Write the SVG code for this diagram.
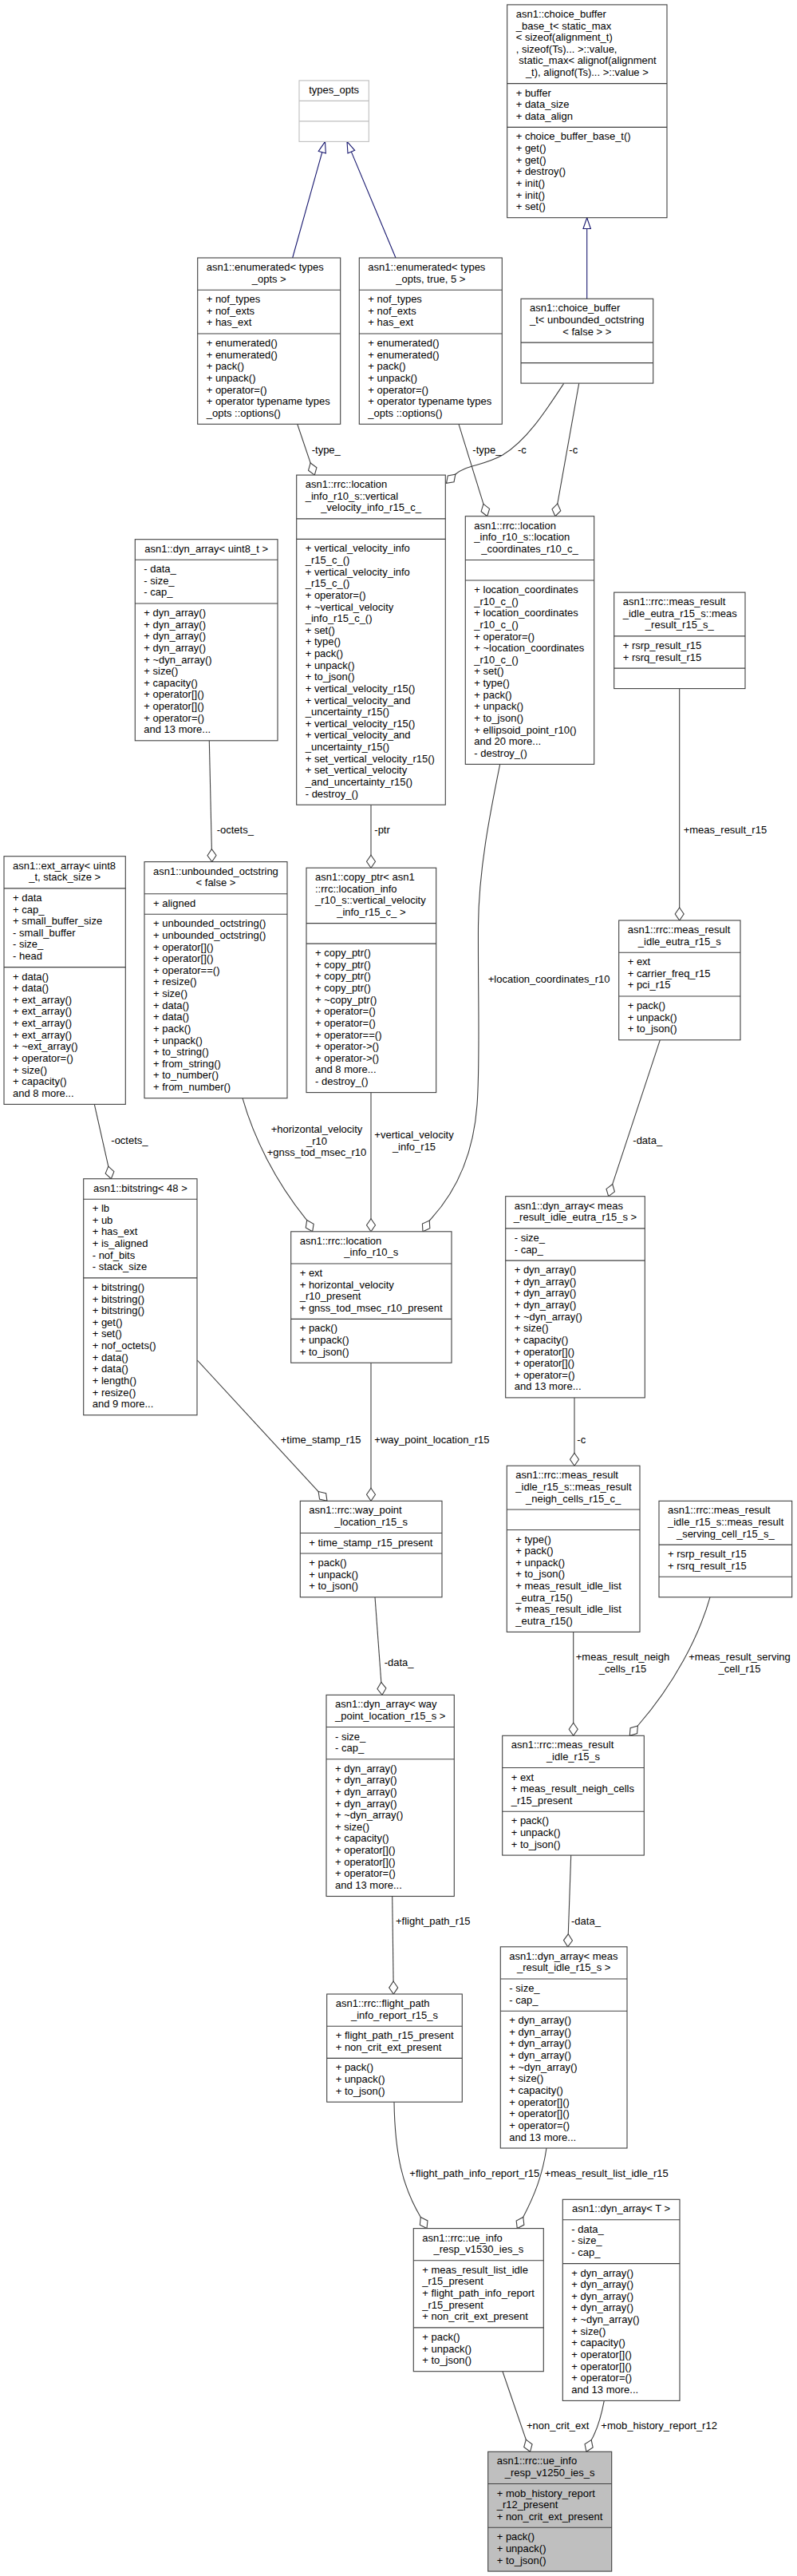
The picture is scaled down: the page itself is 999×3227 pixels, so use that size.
<svg xmlns="http://www.w3.org/2000/svg" width="999" height="3227" viewBox="0 0 999 3227">
<style>
text{font-family:"Liberation Sans",Arial,sans-serif;font-size:13px;fill:#000}
.c{text-anchor:middle}
.n{fill:#fff;stroke:#404040;stroke-width:1.1}
.g{fill:#bfbfbf;stroke:#404040;stroke-width:1.1}
.u{fill:#fff;stroke:#bfbfbf;stroke-width:1.1}
.d{fill:none;stroke:#404040;stroke-width:1.1}
.du{fill:none;stroke:#bfbfbf;stroke-width:1.1}
.e{fill:none;stroke:#404040;stroke-width:1.1;marker-end:url(#dia)}
.i{fill:none;stroke:#191970;stroke-width:1.1;marker-end:url(#tri)}
</style>
<defs>
<marker id="dia" markerUnits="userSpaceOnUse" viewBox="-1 -1 18 13" markerWidth="18" markerHeight="13" refX="16" refY="5.5" orient="auto"><path d="M0,5.5L8,0L16,5.5L8,11Z" fill="#fff" stroke="#404040" stroke-width="1.1"/></marker>
<marker id="tri" markerUnits="userSpaceOnUse" viewBox="-1 -1 16 12" markerWidth="16" markerHeight="12" refX="13.8" refY="4.7" orient="auto"><path d="M0,0L13.8,4.7L0,9.4Z" fill="#fff" stroke="#191970" stroke-width="1.1"/></marker>
</defs>
<rect width="999" height="3227" fill="#fff"/>
<g id="edges">
<path class="i" d="M366.7,323L407.5,177.4"/>
<path class="i" d="M496,323L435,177.4"/>
<path class="i" d="M735.7,374.3L735.7,272.7"/>
<path class="e" d="M372.7,531.3L394.3,595.1"/>
<path class="e" d="M706.7,480.4C684,515 660,552 630,570C605,584 585,582 571,594L559.5,605.4"/>
<path class="e" d="M725.7,480.4L696,646.7"/>
<path class="e" d="M575,531.3L610.7,646.7"/>
<path class="e" d="M262.3,927.8L265.7,1079.6"/>
<path class="e" d="M465,1008.2L465,1087.2"/>
<path class="e" d="M118.3,1383.4L139.3,1476.7"/>
<path class="e" d="M304,1375.7C318,1425 345,1480 385,1529L391.7,1542.8"/>
<path class="e" d="M465,1368.6L465,1542.8"/>
<path class="e" d="M626.7,957.4C614,1020 600,1090 599.5,1160C599,1250 602,1330 598,1384C594,1440 575,1490 538.3,1529L530,1542.8"/>
<path class="e" d="M851.7,862.6L851.7,1153"/>
<path class="e" d="M827.3,1302.8L762.7,1498.7"/>
<path class="e" d="M247.3,1704L410,1880.3"/>
<path class="e" d="M465,1707.2L465,1880.3"/>
<path class="e" d="M720,1750.9L720,1836.2"/>
<path class="e" d="M470,2000.8L479,2123.3"/>
<path class="e" d="M491.7,2375.5L493.3,2498"/>
<path class="e" d="M718.7,2044.4L718.7,2174.3"/>
<path class="e" d="M890,2000.8C876,2050 845,2110 799.3,2162L789.3,2174.3"/>
<path class="e" d="M715.7,2324.1L711.7,2438.8"/>
<path class="e" d="M494,2633.2C495,2700 505,2740 527,2777L535,2791.6"/>
<path class="e" d="M685,2691C680,2725 670,2750 656,2777L648.3,2791.6"/>
<path class="e" d="M630,2970.7L664.5,3071.3"/>
<path class="e" d="M757.3,3007.4C753,3030 748,3045 741,3057L735,3071.3"/>
<text x="390.7" y="567.5">-type_</text>
<text x="649" y="567.5">-c</text>
<text x="713.3" y="567.5">-c</text>
<text x="592.3" y="567.5">-type_</text>
<text x="271.7" y="1043.8">-octets_</text>
<text x="469.3" y="1043.8">-ptr</text>
<text x="139.3" y="1433">-octets_</text>
<text class="c" x="397" y="1419.2">+horizontal_velocity<tspan x="397" dy="14.6">_r10</tspan><tspan x="397" dy="14.6">+gnss_tod_msec_r10</tspan></text>
<text class="c" x="519" y="1426.1">+vertical_velocity<tspan x="519" dy="14.6">_info_r15</tspan></text>
<text x="611.7" y="1230.8">+location_coordinates_r10</text>
<text x="856.7" y="1043.8">+meas_result_r15</text>
<text x="793.3" y="1433">-data_</text>
<text x="351.7" y="1808.3">+time_stamp_r15</text>
<text x="469.3" y="1808.3">+way_point_location_r15</text>
<text x="723.3" y="1808.3">-c</text>
<text x="481.7" y="2087.3">-data_</text>
<text x="496" y="2410.8">+flight_path_r15</text>
<text class="c" x="780.5" y="2080">+meas_result_neigh<tspan x="780.5" dy="14.6">_cells_r15</tspan></text>
<text class="c" x="927" y="2080">+meas_result_serving<tspan x="927" dy="14.6">_cell_r15</tspan></text>
<text x="716" y="2410.8">-data_</text>
<text x="513.3" y="2726.9">+flight_path_info_report_r15</text>
<text x="682.7" y="2726.9">+meas_result_list_idle_r15</text>
<text x="660" y="3043.2">+non_crit_ext</text>
<text x="753.3" y="3043.2">+mob_history_report_r12</text>
</g>
<g id="node_types_opts">
<rect class="u" x="375" y="100.9" width="87.3" height="76.5"/>
<path class="du" d="M375,126.4H462.3M375,151.9H462.3"/>
<text class="c" x="418.6" y="116.9">types_opts</text>
</g>
<g id="node_enumerated_types_opts">
<rect class="n" x="247.7" y="323" width="179" height="208.3"/>
<path class="d" d="M247.7,363.2H426.7M247.7,418H426.7"/>
<text x="258.7" y="339">asn1::enumerated&lt; types</text>
<text class="c" x="337.2" y="353.6">_opts &gt;</text>
<text x="258.7" y="379.2">+ nof_types<tspan x="258.7" dy="14.63">+ nof_exts</tspan><tspan x="258.7" dy="14.63">+ has_ext</tspan></text>
<text x="258.7" y="434">+ enumerated()<tspan x="258.7" dy="14.63">+ enumerated()</tspan><tspan x="258.7" dy="14.63">+ pack()</tspan><tspan x="258.7" dy="14.63">+ unpack()</tspan><tspan x="258.7" dy="14.63">+ operator=()</tspan><tspan x="258.7" dy="14.63">+ operator typename types</tspan><tspan x="258.7" dy="14.63">_opts ::options()</tspan></text>
</g>
<g id="node_enumerated_types_opts_true_5">
<rect class="n" x="450.3" y="323" width="179" height="208.3"/>
<path class="d" d="M450.3,363.2H629.3M450.3,418H629.3"/>
<text x="461.3" y="339">asn1::enumerated&lt; types</text>
<text class="c" x="539.8" y="353.6">_opts, true, 5 &gt;</text>
<text x="461.3" y="379.2">+ nof_types<tspan x="461.3" dy="14.63">+ nof_exts</tspan><tspan x="461.3" dy="14.63">+ has_ext</tspan></text>
<text x="461.3" y="434">+ enumerated()<tspan x="461.3" dy="14.63">+ enumerated()</tspan><tspan x="461.3" dy="14.63">+ pack()</tspan><tspan x="461.3" dy="14.63">+ unpack()</tspan><tspan x="461.3" dy="14.63">+ operator=()</tspan><tspan x="461.3" dy="14.63">+ operator typename types</tspan><tspan x="461.3" dy="14.63">_opts ::options()</tspan></text>
</g>
<g id="node_choice_buffer_base_t">
<rect class="n" x="635.7" y="5.9" width="200.3" height="266.8"/>
<path class="d" d="M635.7,104.6H836M635.7,159.4H836"/>
<text x="646.7" y="21.9">asn1::choice_buffer<tspan x="646.7" dy="14.63">_base_t&lt; static_max</tspan><tspan x="646.7" dy="14.63">&lt; sizeof(alignment_t)</tspan><tspan x="646.7" dy="14.63">, sizeof(Ts)... &gt;::value,</tspan><tspan x="650.3" dy="14.63">static_max&lt; alignof(alignment</tspan></text>
<text class="c" x="735.85" y="95.1">_t), alignof(Ts)... &gt;::value &gt;</text>
<text x="646.7" y="120.6">+ buffer<tspan x="646.7" dy="14.63">+ data_size</tspan><tspan x="646.7" dy="14.63">+ data_align</tspan></text>
<text x="646.7" y="175.4">+ choice_buffer_base_t()<tspan x="646.7" dy="14.63">+ get()</tspan><tspan x="646.7" dy="14.63">+ get()</tspan><tspan x="646.7" dy="14.63">+ destroy()</tspan><tspan x="646.7" dy="14.63">+ init()</tspan><tspan x="646.7" dy="14.63">+ init()</tspan><tspan x="646.7" dy="14.63">+ set()</tspan></text>
</g>
<g id="node_choice_buffer_t">
<rect class="n" x="653" y="374.3" width="165.7" height="105.8"/>
<path class="d" d="M653,429.1H818.7M653,454.6H818.7"/>
<text x="664" y="390.3">asn1::choice_buffer<tspan x="664" dy="14.63">_t&lt; unbounded_octstring</tspan></text>
<text class="c" x="735.85" y="419.6">&lt; false &gt; &gt;</text>
</g>
<g id="node_vertical_velocity_info_r15_c">
<rect class="n" x="371.7" y="595.1" width="186.6" height="413.1"/>
<path class="d" d="M371.7,649.9H558.3M371.7,675.4H558.3"/>
<text x="382.7" y="611.1">asn1::rrc::location<tspan x="382.7" dy="14.63">_info_r10_s::vertical</tspan></text>
<text class="c" x="465" y="640.4">_velocity_info_r15_c_</text>
<text x="382.7" y="691.4">+ vertical_velocity_info<tspan x="382.7" dy="14.63">_r15_c_()</tspan><tspan x="382.7" dy="14.63">+ vertical_velocity_info</tspan><tspan x="382.7" dy="14.63">_r15_c_()</tspan><tspan x="382.7" dy="14.63">+ operator=()</tspan><tspan x="382.7" dy="14.63">+ ~vertical_velocity</tspan><tspan x="382.7" dy="14.63">_info_r15_c_()</tspan><tspan x="382.7" dy="14.63">+ set()</tspan><tspan x="382.7" dy="14.63">+ type()</tspan><tspan x="382.7" dy="14.63">+ pack()</tspan><tspan x="382.7" dy="14.63">+ unpack()</tspan><tspan x="382.7" dy="14.63">+ to_json()</tspan><tspan x="382.7" dy="14.63">+ vertical_velocity_r15()</tspan><tspan x="382.7" dy="14.63">+ vertical_velocity_and</tspan><tspan x="382.7" dy="14.63">_uncertainty_r15()</tspan><tspan x="382.7" dy="14.63">+ vertical_velocity_r15()</tspan><tspan x="382.7" dy="14.63">+ vertical_velocity_and</tspan><tspan x="382.7" dy="14.63">_uncertainty_r15()</tspan><tspan x="382.7" dy="14.63">+ set_vertical_velocity_r15()</tspan><tspan x="382.7" dy="14.63">+ set_vertical_velocity</tspan><tspan x="382.7" dy="14.63">_and_uncertainty_r15()</tspan><tspan x="382.7" dy="14.63">- destroy_()</tspan></text>
</g>
<g id="node_location_coordinates_r10_c">
<rect class="n" x="583.3" y="646.7" width="161.4" height="310.7"/>
<path class="d" d="M583.3,701.5H744.7M583.3,727H744.7"/>
<text x="594.3" y="662.7">asn1::rrc::location<tspan x="594.3" dy="14.63">_info_r10_s::location</tspan></text>
<text class="c" x="664" y="692">_coordinates_r10_c_</text>
<text x="594.3" y="743">+ location_coordinates<tspan x="594.3" dy="14.63">_r10_c_()</tspan><tspan x="594.3" dy="14.63">+ location_coordinates</tspan><tspan x="594.3" dy="14.63">_r10_c_()</tspan><tspan x="594.3" dy="14.63">+ operator=()</tspan><tspan x="594.3" dy="14.63">+ ~location_coordinates</tspan><tspan x="594.3" dy="14.63">_r10_c_()</tspan><tspan x="594.3" dy="14.63">+ set()</tspan><tspan x="594.3" dy="14.63">+ type()</tspan><tspan x="594.3" dy="14.63">+ pack()</tspan><tspan x="594.3" dy="14.63">+ unpack()</tspan><tspan x="594.3" dy="14.63">+ to_json()</tspan><tspan x="594.3" dy="14.63">+ ellipsoid_point_r10()</tspan><tspan x="594.3" dy="14.63">and 20 more...</tspan><tspan x="594.3" dy="14.63">- destroy_()</tspan></text>
</g>
<g id="node_meas_result_r15_s">
<rect class="n" x="769.7" y="742.1" width="164.3" height="120.5"/>
<path class="d" d="M769.7,796.9H934M769.7,837.1H934"/>
<text x="780.7" y="758.1">asn1::rrc::meas_result<tspan x="780.7" dy="14.63">_idle_eutra_r15_s::meas</tspan></text>
<text class="c" x="851.85" y="787.4">_result_r15_s_</text>
<text x="780.7" y="812.9">+ rsrp_result_r15<tspan x="780.7" dy="14.63">+ rsrq_result_r15</tspan></text>
</g>
<g id="node_dyn_array_uint8_t">
<rect class="n" x="169.3" y="675.7" width="178.7" height="252.1"/>
<path class="d" d="M169.3,701.2H348M169.3,756H348"/>
<text class="c" x="258.65" y="691.7">asn1::dyn_array&lt; uint8_t &gt;</text>
<text x="180.3" y="717.2">- data_<tspan x="180.3" dy="14.63">- size_</tspan><tspan x="180.3" dy="14.63">- cap_</tspan></text>
<text x="180.3" y="772">+ dyn_array()<tspan x="180.3" dy="14.63">+ dyn_array()</tspan><tspan x="180.3" dy="14.63">+ dyn_array()</tspan><tspan x="180.3" dy="14.63">+ dyn_array()</tspan><tspan x="180.3" dy="14.63">+ ~dyn_array()</tspan><tspan x="180.3" dy="14.63">+ size()</tspan><tspan x="180.3" dy="14.63">+ capacity()</tspan><tspan x="180.3" dy="14.63">+ operator[]()</tspan><tspan x="180.3" dy="14.63">+ operator[]()</tspan><tspan x="180.3" dy="14.63">+ operator=()</tspan><tspan x="180.3" dy="14.63">and 13 more...</tspan></text>
</g>
<g id="node_ext_array">
<rect class="n" x="5" y="1072.7" width="152.3" height="310.7"/>
<path class="d" d="M5,1112.9H157.3M5,1211.6H157.3"/>
<text x="16" y="1088.7">asn1::ext_array&lt; uint8</text>
<text class="c" x="81.15" y="1103.3">_t, stack_size &gt;</text>
<text x="16" y="1128.9">+ data<tspan x="16" dy="14.63">+ cap_</tspan><tspan x="16" dy="14.63">+ small_buffer_size</tspan><tspan x="16" dy="14.63">- small_buffer</tspan><tspan x="16" dy="14.63">- size_</tspan><tspan x="16" dy="14.63">- head</tspan></text>
<text x="16" y="1227.6">+ data()<tspan x="16" dy="14.63">+ data()</tspan><tspan x="16" dy="14.63">+ ext_array()</tspan><tspan x="16" dy="14.63">+ ext_array()</tspan><tspan x="16" dy="14.63">+ ext_array()</tspan><tspan x="16" dy="14.63">+ ext_array()</tspan><tspan x="16" dy="14.63">+ ~ext_array()</tspan><tspan x="16" dy="14.63">+ operator=()</tspan><tspan x="16" dy="14.63">+ size()</tspan><tspan x="16" dy="14.63">+ capacity()</tspan><tspan x="16" dy="14.63">and 8 more...</tspan></text>
</g>
<g id="node_unbounded_octstring">
<rect class="n" x="181" y="1079.6" width="179" height="296.1"/>
<path class="d" d="M181,1119.8H360M181,1145.3H360"/>
<text x="192" y="1095.6">asn1::unbounded_octstring</text>
<text class="c" x="270.5" y="1110.2">&lt; false &gt;</text>
<text x="192" y="1135.8">+ aligned</text>
<text x="192" y="1161.3">+ unbounded_octstring()<tspan x="192" dy="14.63">+ unbounded_octstring()</tspan><tspan x="192" dy="14.63">+ operator[]()</tspan><tspan x="192" dy="14.63">+ operator[]()</tspan><tspan x="192" dy="14.63">+ operator==()</tspan><tspan x="192" dy="14.63">+ resize()</tspan><tspan x="192" dy="14.63">+ size()</tspan><tspan x="192" dy="14.63">+ data()</tspan><tspan x="192" dy="14.63">+ data()</tspan><tspan x="192" dy="14.63">+ pack()</tspan><tspan x="192" dy="14.63">+ unpack()</tspan><tspan x="192" dy="14.63">+ to_string()</tspan><tspan x="192" dy="14.63">+ from_string()</tspan><tspan x="192" dy="14.63">+ to_number()</tspan><tspan x="192" dy="14.63">+ from_number()</tspan></text>
</g>
<g id="node_copy_ptr">
<rect class="n" x="384" y="1087.2" width="162.7" height="281.4"/>
<path class="d" d="M384,1156.6H546.7M384,1182.1H546.7"/>
<text x="395" y="1103.2">asn1::copy_ptr&lt; asn1<tspan x="395" dy="14.63">::rrc::location_info</tspan><tspan x="395" dy="14.63">_r10_s::vertical_velocity</tspan></text>
<text class="c" x="465.35" y="1147.1">_info_r15_c_ &gt;</text>
<text x="395" y="1198.1">+ copy_ptr()<tspan x="395" dy="14.63">+ copy_ptr()</tspan><tspan x="395" dy="14.63">+ copy_ptr()</tspan><tspan x="395" dy="14.63">+ copy_ptr()</tspan><tspan x="395" dy="14.63">+ ~copy_ptr()</tspan><tspan x="395" dy="14.63">+ operator=()</tspan><tspan x="395" dy="14.63">+ operator=()</tspan><tspan x="395" dy="14.63">+ operator==()</tspan><tspan x="395" dy="14.63">+ operator-&gt;()</tspan><tspan x="395" dy="14.63">+ operator-&gt;()</tspan><tspan x="395" dy="14.63">and 8 more...</tspan><tspan x="395" dy="14.63">- destroy_()</tspan></text>
</g>
<g id="node_meas_result_idle_eutra_r15_s">
<rect class="n" x="775.7" y="1153" width="152.3" height="149.8"/>
<path class="d" d="M775.7,1193.2H928M775.7,1248H928"/>
<text x="786.7" y="1169">asn1::rrc::meas_result</text>
<text class="c" x="851.85" y="1183.6">_idle_eutra_r15_s</text>
<text x="786.7" y="1209.2">+ ext<tspan x="786.7" dy="14.63">+ carrier_freq_r15</tspan><tspan x="786.7" dy="14.63">+ pci_r15</tspan></text>
<text x="786.7" y="1264">+ pack()<tspan x="786.7" dy="14.63">+ unpack()</tspan><tspan x="786.7" dy="14.63">+ to_json()</tspan></text>
</g>
<g id="node_bitstring_48">
<rect class="n" x="104.7" y="1476.7" width="142.3" height="296"/>
<path class="d" d="M104.7,1502.2H247M104.7,1600.9H247"/>
<text class="c" x="175.85" y="1492.7">asn1::bitstring&lt; 48 &gt;</text>
<text x="115.7" y="1518.2">+ lb<tspan x="115.7" dy="14.63">+ ub</tspan><tspan x="115.7" dy="14.63">+ has_ext</tspan><tspan x="115.7" dy="14.63">+ is_aligned</tspan><tspan x="115.7" dy="14.63">- nof_bits</tspan><tspan x="115.7" dy="14.63">- stack_size</tspan></text>
<text x="115.7" y="1616.9">+ bitstring()<tspan x="115.7" dy="14.63">+ bitstring()</tspan><tspan x="115.7" dy="14.63">+ bitstring()</tspan><tspan x="115.7" dy="14.63">+ get()</tspan><tspan x="115.7" dy="14.63">+ set()</tspan><tspan x="115.7" dy="14.63">+ nof_octets()</tspan><tspan x="115.7" dy="14.63">+ data()</tspan><tspan x="115.7" dy="14.63">+ data()</tspan><tspan x="115.7" dy="14.63">+ length()</tspan><tspan x="115.7" dy="14.63">+ resize()</tspan><tspan x="115.7" dy="14.63">and 9 more...</tspan></text>
</g>
<g id="node_location_info_r10_s">
<rect class="n" x="364.7" y="1542.8" width="201.3" height="164.4"/>
<path class="d" d="M364.7,1583H566M364.7,1652.4H566"/>
<text x="375.7" y="1558.8">asn1::rrc::location</text>
<text class="c" x="465.35" y="1573.4">_info_r10_s</text>
<text x="375.7" y="1599">+ ext<tspan x="375.7" dy="14.63">+ horizontal_velocity</tspan><tspan x="375.7" dy="14.63">_r10_present</tspan><tspan x="375.7" dy="14.63">+ gnss_tod_msec_r10_present</tspan></text>
<text x="375.7" y="1668.4">+ pack()<tspan x="375.7" dy="14.63">+ unpack()</tspan><tspan x="375.7" dy="14.63">+ to_json()</tspan></text>
</g>
<g id="node_dyn_array_meas_result_idle_eutra_r15_s">
<rect class="n" x="633.7" y="1498.7" width="174.6" height="252.2"/>
<path class="d" d="M633.7,1538.9H808.3M633.7,1579.1H808.3"/>
<text x="644.7" y="1514.7">asn1::dyn_array&lt; meas</text>
<text class="c" x="721" y="1529.3">_result_idle_eutra_r15_s &gt;</text>
<text x="644.7" y="1554.9">- size_<tspan x="644.7" dy="14.63">- cap_</tspan></text>
<text x="644.7" y="1595.1">+ dyn_array()<tspan x="644.7" dy="14.63">+ dyn_array()</tspan><tspan x="644.7" dy="14.63">+ dyn_array()</tspan><tspan x="644.7" dy="14.63">+ dyn_array()</tspan><tspan x="644.7" dy="14.63">+ ~dyn_array()</tspan><tspan x="644.7" dy="14.63">+ size()</tspan><tspan x="644.7" dy="14.63">+ capacity()</tspan><tspan x="644.7" dy="14.63">+ operator[]()</tspan><tspan x="644.7" dy="14.63">+ operator[]()</tspan><tspan x="644.7" dy="14.63">+ operator=()</tspan><tspan x="644.7" dy="14.63">and 13 more...</tspan></text>
</g>
<g id="node_way_point_location_r15_s">
<rect class="n" x="376.3" y="1880.3" width="177.7" height="120.5"/>
<path class="d" d="M376.3,1920.5H554M376.3,1946H554"/>
<text x="387.3" y="1896.3">asn1::rrc::way_point</text>
<text class="c" x="465.15" y="1910.9">_location_r15_s</text>
<text x="387.3" y="1936.5">+ time_stamp_r15_present</text>
<text x="387.3" y="1962">+ pack()<tspan x="387.3" dy="14.63">+ unpack()</tspan><tspan x="387.3" dy="14.63">+ to_json()</tspan></text>
</g>
<g id="node_meas_result_neigh_cells_r15_c">
<rect class="n" x="635.3" y="1836.2" width="166.7" height="208.2"/>
<path class="d" d="M635.3,1891H802M635.3,1916.5H802"/>
<text x="646.3" y="1852.2">asn1::rrc::meas_result<tspan x="646.3" dy="14.63">_idle_r15_s::meas_result</tspan></text>
<text class="c" x="718.65" y="1881.5">_neigh_cells_r15_c_</text>
<text x="646.3" y="1932.5">+ type()<tspan x="646.3" dy="14.63">+ pack()</tspan><tspan x="646.3" dy="14.63">+ unpack()</tspan><tspan x="646.3" dy="14.63">+ to_json()</tspan><tspan x="646.3" dy="14.63">+ meas_result_idle_list</tspan><tspan x="646.3" dy="14.63">_eutra_r15()</tspan><tspan x="646.3" dy="14.63">+ meas_result_idle_list</tspan><tspan x="646.3" dy="14.63">_eutra_r15()</tspan></text>
</g>
<g id="node_meas_result_serving_cell_r15_s">
<rect class="n" x="826" y="1880.3" width="166.7" height="120.5"/>
<path class="d" d="M826,1935.1H992.7M826,1975.3H992.7"/>
<text x="837" y="1896.3">asn1::rrc::meas_result<tspan x="837" dy="14.63">_idle_r15_s::meas_result</tspan></text>
<text class="c" x="909.35" y="1925.6">_serving_cell_r15_s_</text>
<text x="837" y="1951.1">+ rsrp_result_r15<tspan x="837" dy="14.63">+ rsrq_result_r15</tspan></text>
</g>
<g id="node_dyn_array_way_point_location_r15_s">
<rect class="n" x="409" y="2123.3" width="160.3" height="252.2"/>
<path class="d" d="M409,2163.5H569.3M409,2203.7H569.3"/>
<text x="420" y="2139.3">asn1::dyn_array&lt; way</text>
<text class="c" x="489.15" y="2153.9">_point_location_r15_s &gt;</text>
<text x="420" y="2179.5">- size_<tspan x="420" dy="14.63">- cap_</tspan></text>
<text x="420" y="2219.7">+ dyn_array()<tspan x="420" dy="14.63">+ dyn_array()</tspan><tspan x="420" dy="14.63">+ dyn_array()</tspan><tspan x="420" dy="14.63">+ dyn_array()</tspan><tspan x="420" dy="14.63">+ ~dyn_array()</tspan><tspan x="420" dy="14.63">+ size()</tspan><tspan x="420" dy="14.63">+ capacity()</tspan><tspan x="420" dy="14.63">+ operator[]()</tspan><tspan x="420" dy="14.63">+ operator[]()</tspan><tspan x="420" dy="14.63">+ operator=()</tspan><tspan x="420" dy="14.63">and 13 more...</tspan></text>
</g>
<g id="node_flight_path_info_report_r15_s">
<rect class="n" x="409.7" y="2498" width="169.6" height="135.2"/>
<path class="d" d="M409.7,2538.2H579.3M409.7,2578.4H579.3"/>
<text x="420.7" y="2514">asn1::rrc::flight_path</text>
<text class="c" x="494.5" y="2528.6">_info_report_r15_s</text>
<text x="420.7" y="2554.2">+ flight_path_r15_present<tspan x="420.7" dy="14.63">+ non_crit_ext_present</tspan></text>
<text x="420.7" y="2594.4">+ pack()<tspan x="420.7" dy="14.63">+ unpack()</tspan><tspan x="420.7" dy="14.63">+ to_json()</tspan></text>
</g>
<g id="node_meas_result_idle_r15_s">
<rect class="n" x="629.7" y="2174.3" width="177.6" height="149.8"/>
<path class="d" d="M629.7,2214.5H807.3M629.7,2269.3H807.3"/>
<text x="640.7" y="2190.3">asn1::rrc::meas_result</text>
<text class="c" x="718.5" y="2204.9">_idle_r15_s</text>
<text x="640.7" y="2230.5">+ ext<tspan x="640.7" dy="14.63">+ meas_result_neigh_cells</tspan><tspan x="640.7" dy="14.63">_r15_present</tspan></text>
<text x="640.7" y="2285.3">+ pack()<tspan x="640.7" dy="14.63">+ unpack()</tspan><tspan x="640.7" dy="14.63">+ to_json()</tspan></text>
</g>
<g id="node_dyn_array_meas_result_idle_r15_s">
<rect class="n" x="627.3" y="2438.8" width="158.7" height="252.2"/>
<path class="d" d="M627.3,2479H786M627.3,2519.2H786"/>
<text x="638.3" y="2454.8">asn1::dyn_array&lt; meas</text>
<text class="c" x="706.65" y="2469.4">_result_idle_r15_s &gt;</text>
<text x="638.3" y="2495">- size_<tspan x="638.3" dy="14.63">- cap_</tspan></text>
<text x="638.3" y="2535.2">+ dyn_array()<tspan x="638.3" dy="14.63">+ dyn_array()</tspan><tspan x="638.3" dy="14.63">+ dyn_array()</tspan><tspan x="638.3" dy="14.63">+ dyn_array()</tspan><tspan x="638.3" dy="14.63">+ ~dyn_array()</tspan><tspan x="638.3" dy="14.63">+ size()</tspan><tspan x="638.3" dy="14.63">+ capacity()</tspan><tspan x="638.3" dy="14.63">+ operator[]()</tspan><tspan x="638.3" dy="14.63">+ operator[]()</tspan><tspan x="638.3" dy="14.63">+ operator=()</tspan><tspan x="638.3" dy="14.63">and 13 more...</tspan></text>
</g>
<g id="node_ue_info_resp_v1530_ies_s">
<rect class="n" x="518.3" y="2791.6" width="163" height="179.1"/>
<path class="d" d="M518.3,2831.8H681.3M518.3,2915.9H681.3"/>
<text x="529.3" y="2807.6">asn1::rrc::ue_info</text>
<text class="c" x="599.8" y="2822.2">_resp_v1530_ies_s</text>
<text x="529.3" y="2847.8">+ meas_result_list_idle<tspan x="529.3" dy="14.63">_r15_present</tspan><tspan x="529.3" dy="14.63">+ flight_path_info_report</tspan><tspan x="529.3" dy="14.63">_r15_present</tspan><tspan x="529.3" dy="14.63">+ non_crit_ext_present</tspan></text>
<text x="529.3" y="2931.9">+ pack()<tspan x="529.3" dy="14.63">+ unpack()</tspan><tspan x="529.3" dy="14.63">+ to_json()</tspan></text>
</g>
<g id="node_dyn_array_T">
<rect class="n" x="705.3" y="2755.3" width="146.7" height="252.1"/>
<path class="d" d="M705.3,2780.8H852M705.3,2835.6H852"/>
<text class="c" x="778.65" y="2771.3">asn1::dyn_array&lt; T &gt;</text>
<text x="716.3" y="2796.8">- data_<tspan x="716.3" dy="14.63">- size_</tspan><tspan x="716.3" dy="14.63">- cap_</tspan></text>
<text x="716.3" y="2851.6">+ dyn_array()<tspan x="716.3" dy="14.63">+ dyn_array()</tspan><tspan x="716.3" dy="14.63">+ dyn_array()</tspan><tspan x="716.3" dy="14.63">+ dyn_array()</tspan><tspan x="716.3" dy="14.63">+ ~dyn_array()</tspan><tspan x="716.3" dy="14.63">+ size()</tspan><tspan x="716.3" dy="14.63">+ capacity()</tspan><tspan x="716.3" dy="14.63">+ operator[]()</tspan><tspan x="716.3" dy="14.63">+ operator[]()</tspan><tspan x="716.3" dy="14.63">+ operator=()</tspan><tspan x="716.3" dy="14.63">and 13 more...</tspan></text>
</g>
<g id="node_ue_info_resp_v1250_ies_s">
<rect class="g" x="611.7" y="3071.3" width="155" height="149.8"/>
<path class="d" d="M611.7,3111.5H766.7M611.7,3166.3H766.7"/>
<text x="622.7" y="3087.3">asn1::rrc::ue_info</text>
<text class="c" x="689.2" y="3101.9">_resp_v1250_ies_s</text>
<text x="622.7" y="3127.5">+ mob_history_report<tspan x="622.7" dy="14.63">_r12_present</tspan><tspan x="622.7" dy="14.63">+ non_crit_ext_present</tspan></text>
<text x="622.7" y="3182.3">+ pack()<tspan x="622.7" dy="14.63">+ unpack()</tspan><tspan x="622.7" dy="14.63">+ to_json()</tspan></text>
</g>
</svg>
